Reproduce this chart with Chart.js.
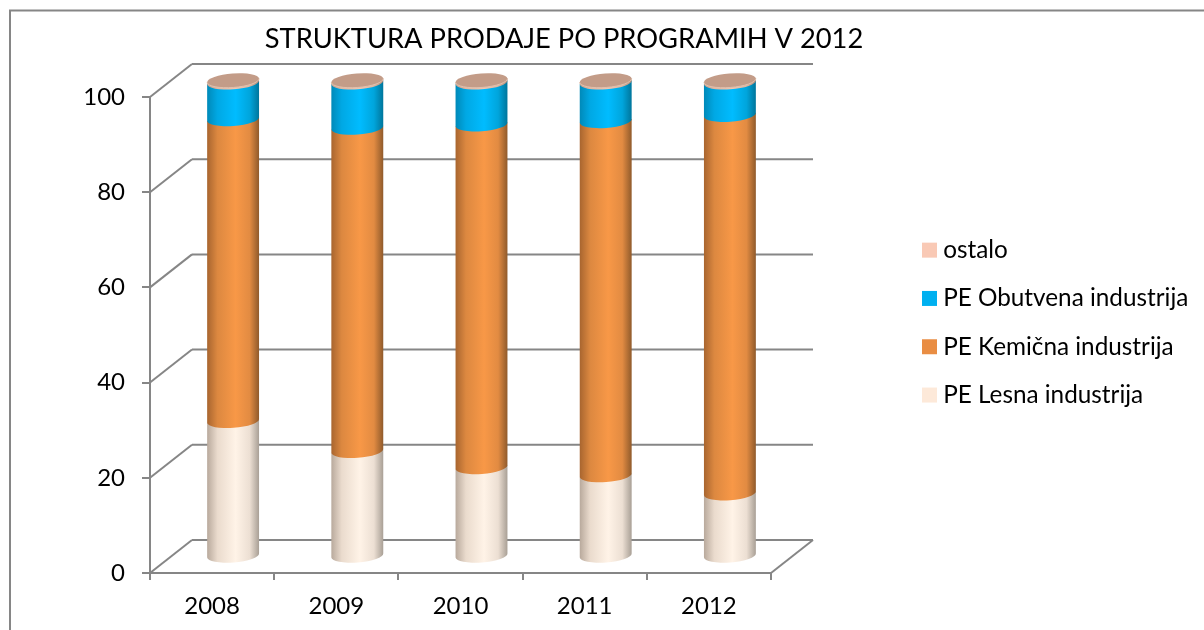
<!DOCTYPE html>
<html>
<head>
<meta charset="utf-8">
<title>Struktura prodaje</title>
<script src="https://cdn.jsdelivr.net/npm/chart.js@4"></script>
<style>
  html, body { margin: 0; padding: 0; background: #fff; }
  canvas { display: block; }
</style>
</head>
<body>
<canvas id="grafico" width="1204" height="630"></canvas>
<script>
// Data
const leta = ["2008", "2009", "2010", "2011", "2012"];
const lesna = [28.5, 22.2, 18.8, 17.1, 13.3];
const kemicna = [63.4, 67.9, 72.0, 74.4, 79.5];
const obutvena = [7.7, 9.5, 8.8, 8.1, 6.8];
const ostalo = [0.4, 0.4, 0.4, 0.4, 0.4];

const pisava = "Lato, Carlito, sans-serif";
const siva = "#868686";

// depth of the fake 3D box, in pixels
const globX = 42, globY = -33;

// shading across each cylinder, bottom to top
const stopi = [0, 0.2, 0.55, 0.82, 1];
const sencenje = [
  ["#b8a99c", "#eadbcd", "#fff3e7", "#ecdfd3", "#a89f95"],
  ["#a8652f", "#dc8840", "#f89847", "#e28b42", "#8f5a2b"],
  ["#0089b8", "#00a8e4", "#00bcff", "#00a5dc", "#00759b"],
  ["#c8a08c", "#e0b6a0", "#f0c4ae", "#e0b6a0", "#b08a78"]
];

function crta(ctx, x1, y1, x2, y2) {
  ctx.beginPath();
  ctx.moveTo(x1, y1);
  ctx.lineTo(x2, y2);
  ctx.stroke();
}

// back wall, floor and the diagonal lines
function risiStene(chart) {
  const { ctx, chartArea, scales } = chart;
  ctx.save();
  ctx.strokeStyle = siva;
  ctx.lineWidth = 2;
  scales.y.ticks.forEach(t => {
    const y = scales.y.getPixelForValue(t.value);
    crta(ctx, chartArea.left, y, chartArea.left + globX, y + globY);
    crta(ctx, chartArea.left + globX, y + globY, chartArea.right + globX, y + globY);
  });
  const dno = scales.y.getPixelForValue(0);
  crta(ctx, chartArea.right, dno, chartArea.right + globX, dno + globY);
  ctx.restore();
}

function risiValje(chart) {
  const { ctx } = chart;
  const naklon = -0.075, b = 7;
  ctx.save();
  chart.data.datasets.forEach((ds, i) => {
    chart.getDatasetMeta(i).data.forEach(bar => {
      const cx = bar.x + globX / 2;
      const a = bar.width / 2;
      const vrh = bar.y + globY / 2, dno = bar.base + globY / 2;
      const dy = a * Math.sin(naklon), dx = a * Math.cos(naklon);
      const g = ctx.createLinearGradient(cx - a, 0, cx + a, 0);
      stopi.forEach((s, k) => g.addColorStop(s, sencenje[i][k]));
      ctx.fillStyle = g;
      ctx.beginPath();
      ctx.moveTo(cx - dx, vrh - dy);
      ctx.lineTo(cx - dx, dno - dy);
      ctx.ellipse(cx, dno, a, b, naklon, Math.PI, 0, true);
      ctx.lineTo(cx + dx, vrh + dy);
      ctx.closePath();
      ctx.fill();
      // top of the stack
      if (i === chart.data.datasets.length - 1) {
        ctx.beginPath();
        ctx.ellipse(cx, vrh, a, b, naklon, 0, Math.PI * 2);
        ctx.fillStyle = "#c39c88";
        ctx.fill();
        ctx.beginPath();
        ctx.ellipse(cx, vrh, a, b, naklon, Math.PI, 0, true);
        ctx.strokeStyle = "#e0c0ad";
        ctx.lineWidth = 1;
        ctx.stroke();
      }
    });
  });
  ctx.restore();
}

const okvirPlugin = {
  id: "okvir",
  afterLayout(chart) {
    // title and legend sit where the picture has them, not where layout puts them
    chart.titleBlock.left = 164;
    chart.titleBlock.right = 964;
    chart.legend.left = 904;
    chart.legend.right = chart.width;
    chart.legend.top = 214;
    chart.legend.bottom = chart.height;
  },
  beforeDraw(chart) {
    const { ctx, width, height } = chart;
    ctx.save();
    ctx.strokeStyle = siva;
    ctx.lineWidth = 2;
    ctx.beginPath();
    ctx.moveTo(10, height);
    ctx.lineTo(10, 10.5);
    ctx.lineTo(width, 10.5);
    ctx.stroke();
    ctx.restore();
  },
  beforeDatasetsDraw(chart) {
    risiStene(chart);
    risiValje(chart);
  },
  beforeDatasetDraw() {
    return false;
  }
};

new Chart(document.getElementById("grafico").getContext("2d"), {
  type: "bar",
  data: {
    labels: leta,
    datasets: [
      { label: "PE Lesna industrija", data: lesna, backgroundColor: "#fde9d9" },
      { label: "PE Kemična industrija", data: kemicna, backgroundColor: "#e98d43" },
      { label: "PE Obutvena industrija", data: obutvena, backgroundColor: "#00b0f0" },
      { label: "ostalo", data: ostalo, backgroundColor: "#f9c9b5" }
    ]
  },
  plugins: [okvirPlugin],
  options: {
    responsive: false,
    animation: false,
    layout: { padding: { left: 0, right: 432, top: 0, bottom: 0 } },
    datasets: { bar: { categoryPercentage: 1, barPercentage: 0.419 } },
    plugins: {
      tooltip: { enabled: false },
      title: {
        display: true,
        text: "STRUKTURA PRODAJE PO PROGRAMIH V 2012",
        color: "#000",
        font: { family: pisava, size: 27.3, weight: "normal" },
        padding: { top: 22.6, bottom: 41.6 }
      },
      legend: {
        position: "right",
        align: "start",
        reverse: true,
        maxWidth: 1,
        labels: {
          color: "#000",
          font: { family: pisava, size: 24.3 },
          usePointStyle: true,
          pointStyle: "rect",
          boxWidth: 3,
          boxHeight: 15,
          padding: 24
        }
      }
    },
    scales: {
      x: {
        stacked: true,
        afterFit(s) { s.height = 57; },
        grid: { drawOnChartArea: false, color: siva, lineWidth: 2, tickLength: 7 },
        border: { color: siva, width: 2 },
        ticks: { color: "#000", padding: 11.6, maxRotation: 0, font: { family: pisava, size: 24 } }
      },
      y: {
        stacked: true,
        min: 0,
        max: 100,
        afterFit(s) { s.width = 150; },
        grid: { drawOnChartArea: false, color: siva, lineWidth: 2, tickLength: 8 },
        border: { color: siva, width: 2 },
        ticks: { color: "#000", stepSize: 20, padding: 17, font: { family: pisava, size: 24 } }
      }
    }
  }
});
</script>
</body>
</html>
